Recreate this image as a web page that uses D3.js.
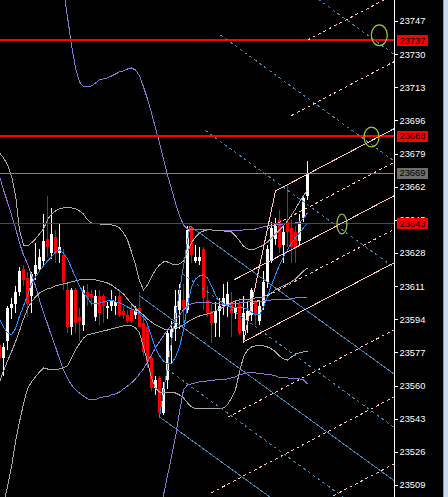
<!DOCTYPE html>
<html>
<head>
<meta charset="utf-8">
<script src="https://cdn.jsdelivr.net/npm/d3@7"></script>
<style>
  html, body { margin: 0; padding: 0; background: #000; overflow: hidden; }
  svg { display: block; }
</style>
</head>
<body>
<svg id="chart" width="448" height="497"></svg>
<script>
// ---- bar data (bar index runs from -1, partly off the left edge, to 76, the live bar) ----
const firstBar = -1;

const opens = [23581, 23574, 23583, 23600, 23602, 23608, 23620, 23615, 23606, 23617,
  23620, 23624, 23635, 23628, 23636, 23628, 23627, 23609, 23590, 23609,
  23595, 23591, 23608, 23607, 23595, 23606, 23606, 23600, 23601, 23601,
  23606, 23598, 23596, 23599, 23596, 23600, 23592, 23590, 23574, 23559,
  23564, 23546, 23563, 23585, 23589, 23599, 23604, 23599, 23641, 23624,
  23624, 23630, 23604, 23598, 23592, 23598, 23601, 23601, 23603, 23597,
  23602, 23588, 23593, 23596, 23603, 23593, 23601, 23613, 23624, 23635,
  23645, 23632, 23644, 23641, 23639, 23634, 23646, 23657];

const highs = [23583, 23582, 23601, 23605, 23611, 23621, 23622, 23618, 23618, 23633,
  23630, 23648, 23657, 23651, 23640, 23643, 23630, 23613, 23610, 23610,
  23600, 23611, 23612, 23609, 23609, 23609, 23607, 23603, 23609, 23606,
  23609, 23601, 23599, 23602, 23601, 23608, 23595, 23591, 23576, 23565,
  23565, 23562, 23589, 23593, 23609, 23612, 23612, 23642, 23642, 23632,
  23631, 23631, 23611, 23602, 23603, 23605, 23612, 23613, 23608, 23604,
  23605, 23606, 23603, 23610, 23604, 23604, 23619, 23632, 23644, 23646,
  23650, 23642, 23663, 23645, 23642, 23648, 23658, 23675];

const lows = [23572, 23565, 23578, 23594, 23597, 23606, 23611, 23595, 23597, 23614,
  23618, 23622, 23626, 23625, 23623, 23623, 23609, 23587, 23586, 23587,
  23583, 23588, 23601, 23601, 23593, 23591, 23592, 23594, 23598, 23596,
  23595, 23594, 23592, 23592, 23594, 23590, 23575, 23569, 23557, 23555,
  23544, 23545, 23558, 23571, 23583, 23589, 23592, 23597, 23623, 23623,
  23622, 23599, 23595, 23582, 23585, 23585, 23596, 23595, 23585, 23594,
  23586, 23582, 23587, 23593, 23591, 23591, 23599, 23610, 23623, 23632,
  23628, 23623, 23631, 23623, 23623, 23632, 23644, 23655];

const closes = [23574, 23580, 23600, 23602, 23608, 23619, 23614, 23602, 23617, 23622,
  23626, 23634, 23631, 23638, 23628, 23631, 23613, 23590, 23609, 23592,
  23593, 23609, 23605, 23605, 23606, 23597, 23601, 23601, 23604, 23603,
  23596, 23596, 23593, 23593, 23599, 23590, 23577, 23572, 23559, 23563,
  23546, 23559, 23587, 23589, 23601, 23609, 23600, 23640, 23627, 23626,
  23626, 23605, 23597, 23592, 23598, 23601, 23605, 23607, 23597, 23600,
  23587, 23597, 23598, 23609, 23596, 23601, 23613, 23630, 23641, 23642,
  23631, 23639, 23639, 23631, 23631, 23644, 23656, 23669];

// fast moving average (blue)
const maFast = [23594.2, 23590.1, 23587.0, 23586.0, 23589.1, 23595.7, 23600.9, 23606.0, 23612.1, 23615.7,
  23618.8, 23621.4, 23623.9, 23626.0, 23628.6, 23629.6, 23628.0, 23625.0, 23620.3, 23615.7,
  23611.1, 23607.5, 23605.0, 23601.9, 23601.9, 23602.4, 23602.9, 23603.4, 23603.9, 23602.9,
  23602.4, 23601.4, 23600.3, 23599.3, 23598.3, 23596.8, 23595.2, 23591.6, 23585.0, 23579.3,
  23575.2, 23572.6, 23571.1, 23571.1, 23574.7, 23579.8, 23588.5, 23601.4, 23610.6, 23614.7,
  23616.2, 23616.8, 23615.2, 23611.1, 23606.5, 23603.4, 23601.9, 23600.9, 23600.3, 23600.3,
  23600.3, 23599.8, 23599.3, 23597.8, 23596.2, 23596.2, 23600.3, 23605.5, 23611.6, 23616.8,
  23621.9, 23626.0, 23629.6, 23633.2, 23635.7, 23638.3, 23640.9, 23643.4];

// Bollinger bands (grey)
const bbUpper = [23679.3, 23676.8, 23673.2, 23667.5, 23657.8, 23639.8, 23632.1, 23631.6, 23633.2, 23635.2,
  23637.8, 23640.3, 23645.0, 23648.0, 23649.6, 23650.6, 23651.1, 23651.1, 23651.1, 23650.6,
  23649.6, 23648.0, 23645.0, 23643.4, 23642.9, 23642.9, 23642.4, 23642.4, 23642.4, 23641.9,
  23640.9, 23638.3, 23634.7, 23628.5, 23621.9, 23613.7, 23609.1, 23611.6, 23615.7, 23619.3,
  23621.9, 23623.4, 23623.4, 23622.4, 23621.9, 23622.4, 23623.9, 23628.5, 23633.2, 23636.2,
  23638.3, 23639.3, 23639.8, 23639.8, 23639.3, 23639.3, 23639.3, 23638.8, 23638.8, 23636.8,
  23634.2, 23631.6, 23630.1, 23629.6, 23630.1, 23631.1, 23632.1, 23633.7, 23635.7, 23637.8,
  23639.8, 23641.9, 23644.4, 23647.5, 23650.6, 23654.2, 23657.3, 23660.3];

const bbMiddle = [23561.9, 23567.5, 23572.6, 23577.3, 23582.4, 23588.0, 23594.2, 23599.3, 23602.9, 23605.5,
  23607.5, 23608.6, 23609.6, 23610.1, 23611.1, 23611.6, 23612.1, 23612.6, 23613.2, 23613.7,
  23614.2, 23614.2, 23614.2, 23614.2, 23614.2, 23613.7, 23613.2, 23612.6, 23611.6, 23610.1,
  23608.6, 23607.0, 23604.4, 23601.9, 23599.8, 23597.8, 23596.2, 23594.2, 23592.6, 23591.1,
  23590.1, 23589.1, 23588.5, 23589.1, 23589.6, 23590.1, 23591.1, 23592.6, 23593.7, 23594.7,
  23595.7, 23596.2, 23596.8, 23597.3, 23598.3, 23599.3, 23600.3, 23601.4, 23602.4, 23603.4,
  23603.9, 23604.4, 23604.4, 23604.4, 23605.0, 23605.0, 23605.5, 23606.5, 23607.5, 23609.1,
  23610.1, 23611.1, 23612.1, 23613.2, 23614.7, 23616.8, 23618.8, 23620.3];

const bbLower = [23490.1, 23499.8, 23508.0, 23518.3, 23531.1, 23541.4, 23550.6, 23558.3, 23561.9, 23564.4,
  23567.0, 23569.1, 23568.5, 23568.0, 23568.0, 23568.5, 23569.1, 23570.1, 23574.2, 23578.3,
  23581.4, 23584.4, 23586.0, 23586.5, 23587.0, 23587.5, 23588.0, 23588.5, 23589.1, 23589.6,
  23590.1, 23590.6, 23590.6, 23590.6, 23589.6, 23587.0, 23579.8, 23572.1, 23563.9, 23558.8,
  23556.7, 23556.2, 23556.2, 23556.2, 23556.2, 23555.2, 23553.7, 23551.1, 23549.1, 23548.0,
  23548.0, 23548.0, 23548.0, 23548.0, 23548.0, 23548.0, 23548.5, 23550.1, 23553.7, 23557.8,
  23567.0, 23574.7, 23578.3, 23579.8, 23580.3, 23580.3, 23580.3, 23579.8, 23578.8, 23577.3,
  23575.2, 23573.7, 23573.1, 23574.7, 23576.2, 23576.8, 23577.3, 23577.3];

// wide envelope (purple); the outer lines start further right
const envUpperFirstBar = 15;
const envUpper = [23762.9, 23749.1, 23734.7, 23722.9, 23715.7, 23713.2, 23713.2, 23713.7, 23715.2, 23716.8,
  23717.3, 23717.8, 23718.8, 23719.8, 23720.9, 23721.4, 23722.4, 23722.9, 23721.9, 23718.8,
  23713.2, 23707.0, 23699.8, 23692.1, 23684.5, 23676.2, 23668.0, 23660.9, 23653.7, 23647.0,
  23642.4, 23640.3, 23639.8, 23639.8, 23639.8, 23639.8, 23639.8, 23639.8, 23639.3, 23639.3,
  23639.3, 23639.3, 23639.3, 23639.3, 23639.3, 23639.8, 23639.8, 23640.3, 23640.3, 23640.9,
  23641.4, 23641.9, 23641.9, 23642.4, 23642.4, 23642.9, 23642.9, 23642.9, 23643.4, 23643.9,
  23645.5, 23648.6];

const envMiddle = [23667.5, 23660.3, 23654.2, 23647.5, 23640.9, 23633.2, 23627.0, 23622.4, 23616.8, 23611.1,
  23603.9, 23597.3, 23591.6, 23585.5, 23579.8, 23573.7, 23568.0, 23563.9, 23560.3, 23557.8,
  23556.2, 23554.7, 23553.2, 23552.6, 23552.6, 23553.7, 23554.2, 23554.2, 23555.2, 23555.7,
  23556.7, 23558.3, 23559.8, 23561.4, 23563.4, 23566.0, 23568.5, 23572.1, 23575.7, 23579.3,
  23582.4, 23585.5, 23588.5, 23591.1, 23593.7, 23596.2, 23598.8, 23600.9, 23601.9, 23602.4,
  23602.4, 23602.4, 23602.4, 23602.4, 23601.9, 23601.9, 23601.4, 23601.4, 23601.9, 23601.9,
  23602.4, 23602.4, 23602.9, 23602.9, 23602.9, 23602.9, 23603.4, 23603.4, 23603.9, 23603.9,
  23603.9, 23604.4, 23604.4, 23604.4, 23605.0, 23605.0, 23605.0, 23605.5];

const envLowerFirstBar = 39;
const envLower = [23493.7, 23503.9, 23513.7, 23523.4, 23533.7, 23546.5, 23557.8, 23560.3, 23560.9, 23561.4,
  23561.9, 23561.9, 23562.4, 23562.4, 23562.9, 23562.9, 23562.9, 23563.4, 23563.9, 23564.4,
  23565.5, 23566.0, 23566.5, 23566.5, 23566.5, 23566.0, 23566.0, 23565.5, 23565.5, 23565.0,
  23563.9, 23563.9, 23563.9, 23563.4, 23563.4, 23563.4, 23562.9, 23560.9];

// price scale labels
const priceTicks = [23747, 23730, 23713, 23696, 23679, 23662, 23645, 23628, 23611, 23594, 23577, 23560, 23543, 23526, 23509];

// horizontal level lines and their price tags
const levelPrices = [23737, 23688, 23643];
const bidPrice = 23669;

// Andrews pitchforks: anchor points as [bar index, price]
const blueForkAnchors = [[34, 23606.0], [46.6, 23641.9], [39, 23543.9]];
const blueForkExtraLevels = [0.5, -0.5, 2, 3, 4];
const pinkForkAnchors = [[57.6, 23614.2], [68, 23659.8], [60, 23582.4]];
const pinkForkExtraLevels = [0.5, -0.5, 2, 3, -2, -3, -4];

// ellipse markers: [centre bar, centre price, half-width in bars, half-height in price]
const markers = [[93.95, 23739.7, 2.0, 5.3], [92.0, 23687.5, 1.875, 5.1], [84.6, 23642.9, 1.25, 5.1]];

// ---------------------------------------------------------------
const W = 448, H = 497;
const axisX = 394.5;

const svg = d3.select('#chart');
svg.append('rect').attr('width', W).attr('height', H).attr('fill', '#000');

const x = d3.scaleLinear().domain([-1, 76]).range([-0.5, 307.5]);
const y = d3.scaleLinear().domain([23509, 23747]).range([485, 21]);

svg.append('clipPath').attr('id', 'plot-clip')
  .append('rect').attr('x', 0).attr('y', 0).attr('width', 394).attr('height', H);

const plot = svg.append('g').attr('clip-path', 'url(#plot-clip)');

// ---- candles ----
const bars = opens.map((o, i) => ({ k: firstBar + i, o, h: highs[i], l: lows[i], c: closes[i] }));
const candleG = plot.append('g').attr('shape-rendering', 'crispEdges');
bars.forEach(b => {
  const col = b.c >= b.o ? '#ffffff' : '#ff0000';
  const cx = x(b.k);
  candleG.append('line')
    .attr('x1', cx).attr('x2', cx)
    .attr('y1', y(b.h)).attr('y2', y(b.l))
    .attr('stroke', col).attr('stroke-width', 1);
  const top = Math.min(y(b.o), y(b.c));
  const hgt = Math.max(1, Math.abs(y(b.o) - y(b.c)));
  candleG.append('rect')
    .attr('x', cx - 1.5).attr('y', top)
    .attr('width', 3).attr('height', hgt)
    .attr('fill', col);
});

// ---- indicator lines ----
const lineGen = d3.line().x(d => x(d.k)).y(d => y(d.v));
function series(values, start) {
  return values.map((v, i) => ({ k: start + i, v }));
}
function drawSeries(values, start, color) {
  plot.append('path')
    .datum(series(values, start))
    .attr('d', lineGen)
    .attr('fill', 'none')
    .attr('stroke', color)
    .attr('stroke-width', 1)
    .attr('shape-rendering', 'crispEdges');
}
drawSeries(envUpper, envUpperFirstBar, '#9370db');
drawSeries(envMiddle, firstBar, '#9370db');
drawSeries(envLower, envLowerFirstBar, '#9370db');
drawSeries(bbUpper, firstBar, '#a9a9a9');
drawSeries(bbMiddle, firstBar, '#a9a9a9');
drawSeries(bbLower, firstBar, '#a9a9a9');
drawSeries(maFast, firstBar, '#1e90ff');

// ---- horizontal levels ----
const hl = plot.append('g').attr('shape-rendering', 'crispEdges');
levelPrices.forEach((p, i) => {
  const w = i < 2 ? 2 : 1;
  const yy = w === 2 ? Math.round(y(p)) : Math.floor(y(p)) + 0.5;
  hl.append('line').attr('x1', 0).attr('x2', 394).attr('y1', yy).attr('y2', yy)
    .attr('stroke', '#ff0000').attr('stroke-width', w);
});
{
  const yy = Math.floor(y(bidPrice)) + 0.5;
  hl.append('line').attr('x1', 0).attr('x2', 394).attr('y1', yy).attr('y2', yy)
    .attr('stroke', '#808080').attr('stroke-width', 1);
}

// ---- pitchforks ----
function drawFork(anchors, extraLevels, color) {
  const g = plot.append('g').attr('fill', 'none').attr('stroke', color).attr('stroke-width', 1)
    .attr('shape-rendering', 'crispEdges');
  const P = anchors.map(a => [x(a[0]), y(a[1])]);
  const [P0, P1, P2] = P;
  const M = [(P1[0] + P2[0]) / 2, (P1[1] + P2[1]) / 2];
  const dx = M[0] - P0[0], dy = M[1] - P0[1];
  const reach = s => {
    const t = (420 - s[0]) / dx;
    return [s[0] + t * dx, s[1] + t * dy];
  };
  const seg = (a, b, dashed) => {
    const l = g.append('line').attr('x1', a[0]).attr('y1', a[1]).attr('x2', b[0]).attr('y2', b[1]);
    if (dashed) l.attr('stroke-dasharray', '3,3');
  };
  seg(P1, P2, false);
  seg(P0, reach(P0), false);
  seg(P1, reach(P1), false);
  seg(P2, reach(P2), false);
  extraLevels.forEach(L => {
    const s = [M[0] + L * (P1[0] - M[0]), M[1] + L * (P1[1] - M[1])];
    seg(s, reach(s), true);
  });
}
drawFork(blueForkAnchors, blueForkExtraLevels, '#4682b4');
drawFork(pinkForkAnchors, pinkForkExtraLevels, '#ffc0cb');

// ---- ellipse markers ----
markers.forEach(m => {
  plot.append('ellipse')
    .attr('cx', x(m[0])).attr('cy', y(m[1]))
    .attr('rx', x(m[0] + m[2]) - x(m[0]))
    .attr('ry', y(m[1] - m[3]) - y(m[1]))
    .attr('fill', 'none').attr('stroke', '#9acd32').attr('stroke-width', 1.2);
});

// ---- price axis ----
const axis = d3.axisRight(y).tickValues(priceTicks).tickSize(3).tickSizeOuter(0)
  .tickPadding(2).tickFormat(d3.format('d'));
const ag = svg.append('g').attr('transform', `translate(${axisX},0)`).call(axis)
  .attr('font-family', '"Liberation Sans", Arial, sans-serif').attr('font-size', 9.3);
ag.select('.domain').remove();
ag.selectAll('.tick line').attr('stroke', '#ffffff').attr('shape-rendering', 'crispEdges');
ag.selectAll('.tick text').attr('fill', '#ffffff');

svg.append('line').attr('x1', axisX).attr('x2', axisX).attr('y1', 0).attr('y2', H)
  .attr('stroke', '#ffffff').attr('stroke-width', 1).attr('shape-rendering', 'crispEdges');

// ---- price tags ----
function priceTag(p, bg) {
  const cy = y(p);
  svg.append('rect').attr('x', 397).attr('y', Math.round(cy - 5.5)).attr('width', 31).attr('height', 11)
    .attr('fill', bg).attr('shape-rendering', 'crispEdges');
  svg.append('text').attr('x', 399.5).attr('y', cy).attr('dy', '0.34em')
    .attr('font-family', '"Liberation Sans", Arial, sans-serif').attr('font-size', 9.3)
    .attr('fill', '#000').text(d3.format('d')(p));
}
levelPrices.forEach(p => priceTag(p, '#ff0000'));
priceTag(bidPrice, '#6e6e6e');

// ---- window edge ----
svg.append('rect').attr('x', 443).attr('y', 0).attr('width', 1).attr('height', H).attr('fill', '#9a9a9a');
svg.append('rect').attr('x', 444).attr('y', 0).attr('width', 4).attr('height', H).attr('fill', '#c8daf0');
</script>
</body>
</html>
